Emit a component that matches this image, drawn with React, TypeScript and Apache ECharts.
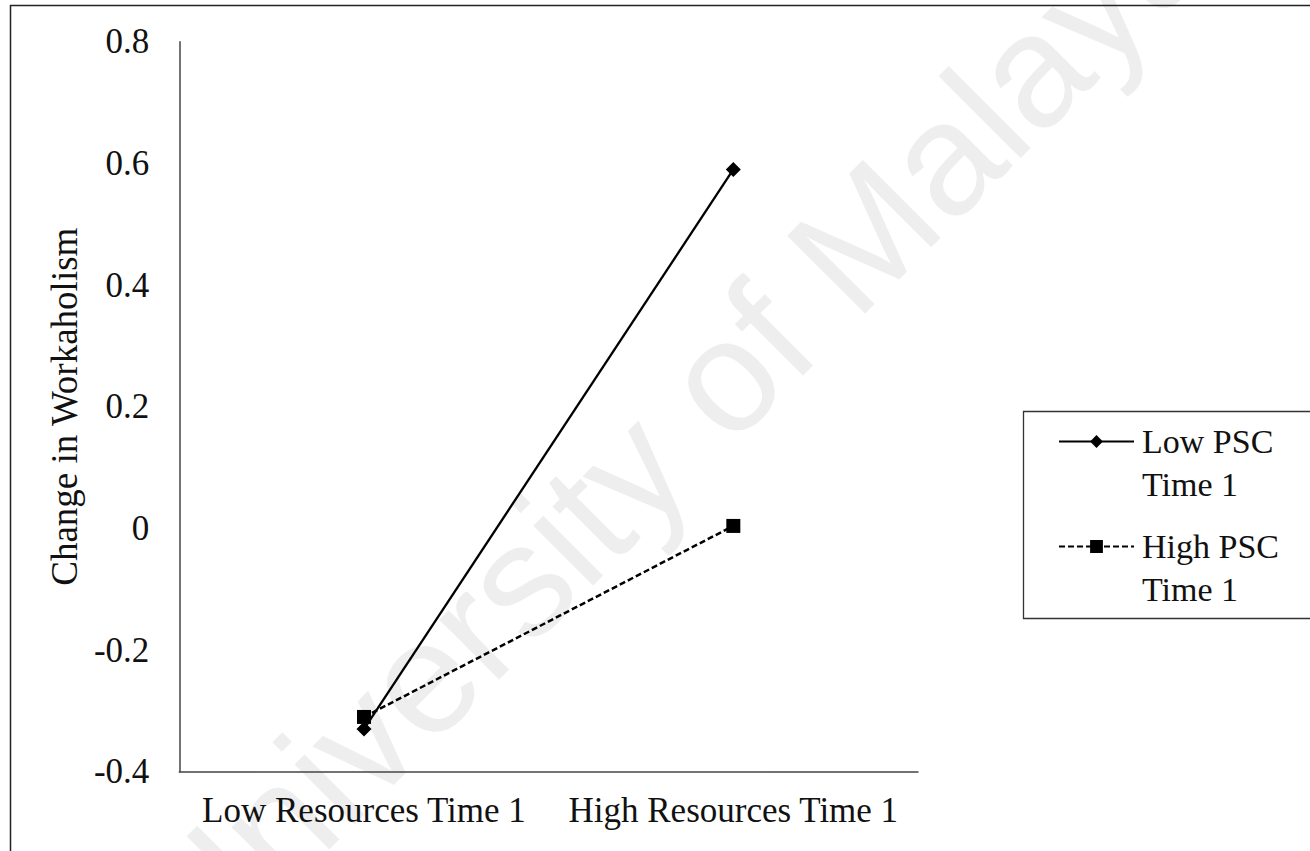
import React, { useEffect, useRef } from "react";
import * as echarts from "echarts";

const categories = ["Low Resources Time 1", "High Resources Time 1"];
const seriesNames = ["Low PSC Time 1", "High PSC Time 1"];
const lowPSC = [-0.33, 0.59];
const highPSC = [-0.31, 0.004];
const yMin = -0.4;
const yMax = 0.8;
const yStep = 0.2;
const yTitle = "Change in Workaholism";
const watermark = "University of Malaya";

const SERIF = '"Liberation Serif", "Times New Roman", serif';
const INK = "#111";
const AXIS = "#444";

export default function App() {
  const ref = useRef<HTMLDivElement>(null);
  useEffect(() => {
    if (!ref.current) return;
    const chart = echarts.init(ref.current, null, { renderer: "svg" });
    const legendBase = (name: string, top: number) => ({
      data: [name],
      orient: "vertical",
      left: 1058,
      top,
      padding: 0,
      itemWidth: 75,
      itemHeight: 16,
      selectedMode: false,
      formatter: (n: string) => "\n" + n.replace(" Time", "\nTime"),
      textStyle: {
        fontFamily: SERIF,
        fontSize: 34,
        lineHeight: 43,
        color: INK,
        padding: [0, 0, 0, 3],
      },
    });
    chart.setOption({
      animation: false,
      backgroundColor: "#fff",
      grid: { left: 179.3, right: 392, top: 41.7, bottom: 79.3, containLabel: false },
      xAxis: {
        type: "category",
        data: categories,
        boundaryGap: true,
        axisLine: { show: true, onZero: false, lineStyle: { color: AXIS, width: 1.5 } },
        axisTick: { show: false },
        axisLabel: { interval: 0, fontFamily: SERIF, fontSize: 35, color: INK, margin: 21 },
        splitLine: { show: false },
      },
      yAxis: {
        type: "value",
        min: yMin,
        max: yMax,
        interval: yStep,
        name: yTitle,
        nameLocation: "middle",
        nameGap: 87,
        nameTextStyle: { fontFamily: SERIF, fontSize: 37, color: INK },
        axisLine: { show: true, lineStyle: { color: AXIS, width: 1.5 } },
        axisTick: { show: false },
        axisLabel: { fontFamily: SERIF, fontSize: 35, color: INK, margin: 30 },
        splitLine: { show: false },
      },
      legend: [legendBase(seriesNames[0], 377), legendBase(seriesNames[1], 482)],
      graphic: [
        {
          type: "text",
          x: 672,
          y: 428,
          rotation: Math.PI / 4,
          z: -10,
          silent: true,
          style: {
            text: watermark,
            font: '160px "Liberation Sans", Arial, sans-serif',
            fill: "#eeeeee",
            align: "center",
            verticalAlign: "middle",
          },
        },
        {
          type: "rect",
          z: 10,
          silent: true,
          shape: { x: 10.5, y: 5.5, width: 1400, height: 1000 },
          style: { fill: "none", stroke: "#222", lineWidth: 1.5 },
        },
        {
          type: "rect",
          z: 10,
          silent: true,
          shape: { x: 1023.5, y: 411.5, width: 400, height: 207 },
          style: { fill: "none", stroke: "#333", lineWidth: 1.3 },
        },
      ],
      series: [
        {
          name: seriesNames[0],
          type: "line",
          data: lowPSC,
          symbol: "diamond",
          symbolSize: 15,
          itemStyle: { color: "#000" },
          lineStyle: { color: "#000", width: 2.3 },
          z: 3,
        },
        {
          name: seriesNames[1],
          type: "line",
          data: highPSC,
          symbol: "rect",
          symbolSize: 14,
          itemStyle: { color: "#000" },
          lineStyle: { color: "#000", width: 2.5, type: [6, 3] },
          z: 4,
        },
      ],
    });
    return () => chart.dispose();
  }, []);
  return (
    <div
      ref={ref}
      style={{ position: "absolute", left: 0, top: 0, width: 1310, height: 851 }}
    />
  );
}
